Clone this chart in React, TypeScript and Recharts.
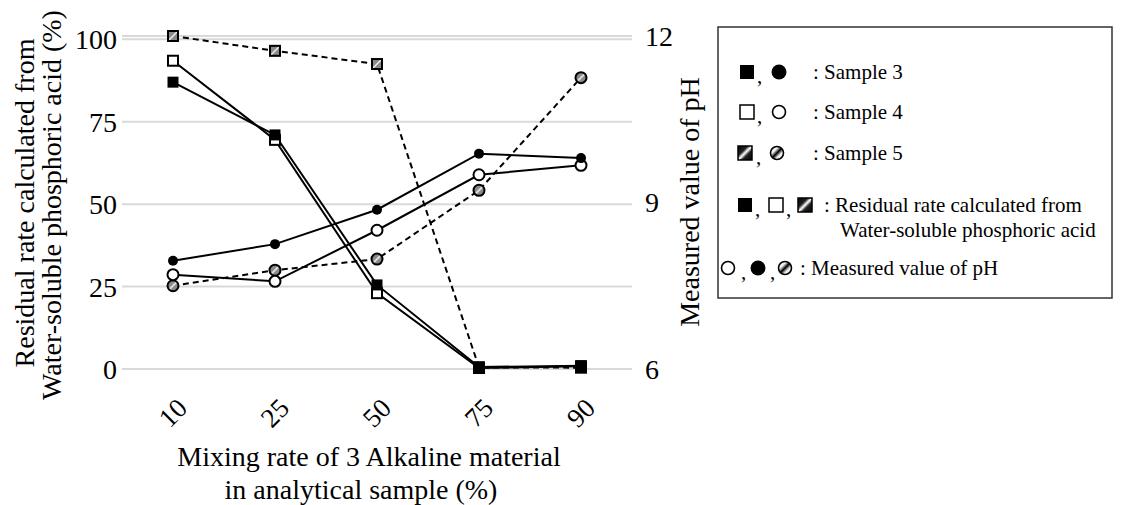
import React from "react";
import { LineChart, Line, XAxis, YAxis, CartesianGrid } from "recharts";

// values
const mixingRates = ["10", "25", "50", "75", "90"];
const residualSample3 = [87, 71, 25.5, 0.6, 1];
const residualSample4 = [93.5, 69.5, 23, 0.3, 0.8];
const residualSample5 = [101, 96.5, 92.5, 0.5, 0.4];
const phSample3 = [7.95, 8.25, 8.87, 9.88, 9.8];
const phSample4 = [7.7, 7.58, 8.5, 9.5, 9.67];
const phSample5 = [7.5, 7.78, 7.98, 9.22, 11.25];
const residualTicks = [0, 25, 50, 75, 100];
const phTicks = [6, 9, 12];

const data = mixingRates.map((rate, i) => ({
  rate,
  r3: residualSample3[i],
  r4: residualSample4[i],
  r5: residualSample5[i],
  ph3: phSample3[i],
  ph4: phSample4[i],
  ph5: phSample5[i],
}));

const FONT = '"Liberation Serif", "Times New Roman", serif';

interface DotProps {
  cx?: number;
  cy?: number;
  index?: number;
}

const squareDot = (fill: string, size: number) => (p: DotProps) => {
  if (p.cx == null || p.cy == null) return <g key={`s-${p.index}`} />;
  const filled = fill === "#000";
  return (
    <rect
      key={`s-${p.index}`}
      x={p.cx - size / 2}
      y={p.cy - size / 2}
      width={size}
      height={size}
      fill={fill}
      stroke="#000"
      strokeWidth={filled ? 0 : 2}
    />
  );
};

const circleDot = (fill: string, r: number) => (p: DotProps) => {
  if (p.cx == null || p.cy == null) return <g key={`c-${p.index}`} />;
  const filled = fill === "#000";
  return (
    <circle
      key={`c-${p.index}`}
      cx={p.cx}
      cy={p.cy}
      r={r}
      fill={fill}
      stroke="#000"
      strokeWidth={filled ? 0 : 2}
    />
  );
};

function RateTick(props: { x?: number; y?: number; payload?: { value: string } }) {
  const { x = 0, y = 0, payload } = props;
  return (
    <text
      transform={`translate(${x},${y + 42}) rotate(-45)`}
      textAnchor="middle"
      dominantBaseline="central"
      fontSize={27}
      fontFamily={FONT}
      fill="#000"
    >
      {payload?.value}
    </text>
  );
}

// small legend glyphs
function Sq({ x, y, kind }: { x: number; y: number; kind: "fill" | "open" | "hatch" }) {
  const fill = kind === "fill" ? "#000" : kind === "open" ? "#fff" : "url(#hatchSq)";
  return (
    <rect
      x={x}
      y={y - 7}
      width={14}
      height={14}
      fill={fill}
      stroke="#000"
      strokeWidth={kind === "fill" ? 0 : 1.5}
    />
  );
}

function Ci({ x, y, kind }: { x: number; y: number; kind: "fill" | "open" | "hatch" }) {
  const fill = kind === "fill" ? "#000" : kind === "open" ? "#fff" : "url(#hatchCi)";
  return (
    <circle
      cx={x + 7}
      cy={y}
      r={kind === "fill" ? 7.5 : 6.5}
      fill={fill}
      stroke="#000"
      strokeWidth={kind === "fill" ? 0 : 1.6}
    />
  );
}

function Legend() {
  const t = { fontSize: 21, fontFamily: FONT, fill: "#000", dominantBaseline: "central" as const };
  return (
    <svg
      width={1126}
      height={505}
      style={{ position: "absolute", left: 0, top: 0, pointerEvents: "none" }}
    >
      <rect x={718} y={27} width={394} height={271} fill="none" stroke="#333" strokeWidth={1.5} />

      <Sq x={740} y={72} kind="fill" />
      <text x={757} y={76} {...t}>,</text>
      <Ci x={772} y={72} kind="fill" />
      <text x={813} y={72} {...t}>: Sample 3</text>

      <Sq x={740} y={112} kind="open" />
      <text x={757} y={116} {...t}>,</text>
      <Ci x={772} y={112} kind="open" />
      <text x={813} y={112} {...t}>: Sample 4</text>

      <Sq x={738} y={153} kind="hatch" />
      <text x={756} y={157} {...t}>,</text>
      <Ci x={770} y={153} kind="hatch" />
      <text x={813} y={153} {...t}>: Sample 5</text>

      <Sq x={738} y={205} kind="fill" />
      <text x={755} y={209} {...t}>,</text>
      <Sq x={769} y={205} kind="open" />
      <text x={786} y={209} {...t}>,</text>
      <Sq x={798} y={205} kind="hatch" />
      <text x={824} y={205} {...t}>: Residual rate calculated from</text>
      <text x={840} y={230} {...t}>Water-soluble phosphoric acid</text>

      <Ci x={721} y={268} kind="open" />
      <text x={741} y={272} {...t}>,</text>
      <Ci x={751} y={268} kind="fill" />
      <text x={770} y={272} {...t}>,</text>
      <Ci x={778} y={268} kind="hatch" />
      <text x={800} y={268} {...t}>: Measured value of pH</text>
    </svg>
  );
}

function AxisTitles() {
  const t = { fontSize: 28, fontFamily: FONT, fill: "#000", textAnchor: "middle" as const, dominantBaseline: "central" as const };
  return (
    <svg
      width={1126}
      height={505}
      style={{ position: "absolute", left: 0, top: 0, pointerEvents: "none" }}
    >
      <text transform="translate(24,203) rotate(-90)" {...t}>Residual rate calculated from</text>
      <text transform="translate(51,205) rotate(-90)" {...t}>Water-soluble phosphoric acid (%)</text>
      <text transform="translate(689,202) rotate(-90)" {...t}>Measured value of pH</text>
      <text x={369} y={456} {...t}>Mixing rate of 3 Alkaline material</text>
      <text x={361} y={489} {...t}>in analytical sample (%)</text>
    </svg>
  );
}

export default function App() {
  return (
    <div style={{ position: "absolute", left: 0, top: 0, width: 1126, height: 505, background: "#fff" }}>
      <svg width={0} height={0} style={{ position: "absolute" }}>
        <defs>
          <linearGradient id="hatchSq" x1="0" y1="0" x2="1" y2="1">
            <stop offset="0" stopColor="#000" />
            <stop offset="0.35" stopColor="#222" />
            <stop offset="0.5" stopColor="#fff" />
            <stop offset="0.65" stopColor="#222" />
            <stop offset="1" stopColor="#000" />
          </linearGradient>
          <linearGradient id="hatchCi" x1="0" y1="0" x2="1" y2="1">
            <stop offset="0" stopColor="#fff" />
            <stop offset="0.32" stopColor="#eee" />
            <stop offset="0.5" stopColor="#000" />
            <stop offset="0.68" stopColor="#eee" />
            <stop offset="1" stopColor="#fff" />
          </linearGradient>
          <linearGradient id="hatchDot" x1="0" y1="0" x2="1" y2="1">
            <stop offset="0" stopColor="#8a8a8a" />
            <stop offset="0.4" stopColor="#8a8a8a" />
            <stop offset="0.5" stopColor="#f2f2f2" />
            <stop offset="0.6" stopColor="#8a8a8a" />
            <stop offset="1" stopColor="#8a8a8a" />
          </linearGradient>
        </defs>
      </svg>

      <LineChart width={720} height={505} data={data} margin={{ top: 36, right: 0, bottom: 0, left: 0 }}>
        <CartesianGrid vertical={false} yAxisId="left" stroke="#d9d9d9" strokeWidth={2} />
        <XAxis
          dataKey="rate"
          height={136}
          axisLine={false}
          tickLine={false}
          tickSize={0}
          tickMargin={2}
          interval={0}
          padding={{ left: 51, right: 51 }}
          tick={<RateTick />}
        />
        <YAxis
          yAxisId="left"
          width={122}
          domain={() => [0, 100]}
          ticks={residualTicks}
          axisLine={false}
          tickLine={false}
          tickSize={0}
          tickMargin={5}
          tick={{ fontSize: 28, fill: "#000", fontFamily: FONT }}
        />
        <YAxis
          yAxisId="right"
          orientation="right"
          width={88}
          domain={[6, 12]}
          ticks={phTicks}
          axisLine={false}
          tickLine={false}
          tickSize={0}
          tickMargin={13}
          tick={{ fontSize: 28, fill: "#000", fontFamily: FONT }}
        />

        <Line yAxisId="right" dataKey="ph5" stroke="#000" strokeWidth={2} strokeDasharray="6 4" dot={circleDot("url(#hatchDot)", 5.5)} isAnimationActive={false} />
        <Line yAxisId="right" dataKey="ph4" stroke="#000" strokeWidth={2} dot={circleDot("#fff", 5.5)} isAnimationActive={false} />
        <Line yAxisId="right" dataKey="ph3" stroke="#000" strokeWidth={2} dot={circleDot("#000", 5)} isAnimationActive={false} />

        <Line yAxisId="left" dataKey="r5" stroke="#000" strokeWidth={2} strokeDasharray="6 4" dot={squareDot("url(#hatchDot)", 10)} isAnimationActive={false} />
        <Line yAxisId="left" dataKey="r4" stroke="#000" strokeWidth={2} dot={squareDot("#fff", 10)} isAnimationActive={false} />
        <Line yAxisId="left" dataKey="r3" stroke="#000" strokeWidth={2} dot={squareDot("#000", 11)} isAnimationActive={false} />
      </LineChart>

      <AxisTitles />
      <Legend />
    </div>
  );
}
